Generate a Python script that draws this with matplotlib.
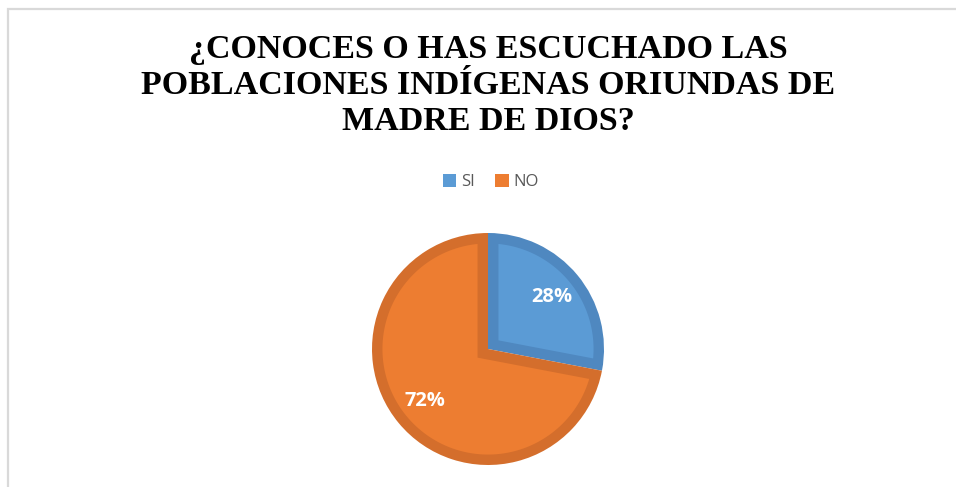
import numpy as np
import matplotlib.pyplot as plt
from matplotlib.patches import Rectangle, Polygon

# datos
categorias = ['SI', 'NO']
valores = [28, 72]
colores = ['#5B9BD5', '#ED7D31']
bordes = ['#4F88C0', '#D46E2C']
titulo = '¿CONOCES O HAS ESCUCHADO LAS\nPOBLACIONES INDÍGENAS ORIUNDAS DE\nMADRE DE DIOS?'

W, H = 956, 487
fig = plt.figure(figsize=(W / 100, H / 100), dpi=100)

# marco del grafico
fig.add_artist(Rectangle((8 / W, -0.1), 2, 1.1 - 9 / H, transform=fig.transFigure,
                         fill=False, ec='#D9D9D9', lw=1.6))

fig.text(488 / W, 1 - 85.5 / H, titulo, ha='center', va='center',
         family='Liberation Serif', fontweight='bold', fontsize=24.5,
         linespacing=1.19, color='black')

# pie (relleno del color del borde, luego el interior encima)
cx, cy, r = 488, 349, 116
ax = fig.add_axes([(cx - r) / W, (H - cy - r) / H, 2 * r / W, 2 * r / H])
wedges, textos, pcts = ax.pie(valores, colors=bordes, startangle=90, counterclock=False,
                              autopct='%1.0f%%', pctdistance=0.71, radius=1,
                              textprops=dict(color='white', fontweight='bold',
                                             fontsize=14.5, family='Open Sans'))

d = 0.09  # grosor del borde interior
for w, c in zip(wedges, colores):
    t1, t2 = np.radians(w.theta1), np.radians(w.theta2)
    R = w.r - d
    dl = np.arcsin(d / R)
    ang = np.linspace(t1 + dl, t2 - dl, 200)
    pts = list(zip(R * np.cos(ang), R * np.sin(ang)))
    mid = (t1 + t2) / 2
    k = d / np.sin((t2 - t1) / 2)
    pts.append((k * np.cos(mid), k * np.sin(mid)))
    ax.add_patch(Polygon(pts, closed=True, fc=c, ec='none', zorder=1.5))
for t in pcts:
    t.set_zorder(3)
ax.set_xlim(-1, 1)
ax.set_ylim(-1, 1)
ax.set_aspect('equal')
ax.axis('off')

# leyenda
handles = [Rectangle((0, 0), 1, 1, fc=c, ec='none') for c in colores]
fig.legend(handles, categorias, loc='center', bbox_to_anchor=(491 / W, 1 - 182 / H),
           ncol=2, frameon=False, handlelength=0.8, handleheight=0.8,
           handletextpad=0.3, columnspacing=1.2,
           prop=dict(family='Open Sans', size=12), labelcolor='#595959')

fig.savefig('out.png', dpi=100)
